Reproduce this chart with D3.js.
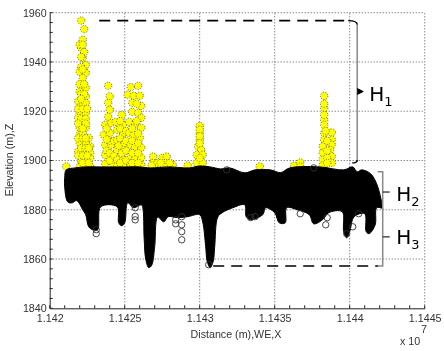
<!DOCTYPE html>
<html>
<head>
<meta charset="utf-8">
<script src="https://cdn.jsdelivr.net/npm/d3@7"></script>
<style>
  html, body { margin: 0; padding: 0; background: #fff; }
  svg { display: block; filter: blur(0.3px); }
  text { font-family: "Liberation Sans", Arial, sans-serif; fill: #333; }
</style>
</head>
<body>
<svg id="chart" width="444" height="351"></svg>
<script>
// Axis ticks (x is in units of 10^7 m)
const xTicks = [1.142, 1.1425, 1.143, 1.1435, 1.144, 1.1445];
const xTickLabels = ['1.142', '1.1425', '1.143', '1.1435', '1.144', '1.1445'];
const xMinor = [1.1421, 1.1422, 1.1423, 1.1424, 1.1426, 1.1427, 1.1428, 1.1429, 1.1431, 1.1432, 1.1433, 1.1434, 1.1436, 1.1437, 1.1438, 1.1439, 1.1441, 1.1442, 1.1443, 1.1444];
const zTicks = [1840, 1860, 1880, 1900, 1920, 1940, 1960];
const zMinor = [1844, 1848, 1852, 1856, 1864, 1868, 1872, 1876, 1884, 1888, 1892, 1896, 1904, 1908, 1912, 1916, 1924, 1928, 1932, 1936, 1944, 1948, 1952, 1956];

// Yellow points above the ground band, one array per spike
const spike1 = [[1.14211,1897.6],[1.14221,1956.8],[1.14223,1953.3],[1.14222,1949],[1.14221,1945.7],[1.14223,1944],[1.14222,1941.7],[1.14224,1938.8],[1.14221,1938],[1.1422,1936],[1.14224,1935.6],[1.14222,1933.5],[1.14221,1930],[1.14224,1929.5],[1.1422,1928],[1.14224,1926],[1.14219,1924],[1.14222,1923.4],[1.14224,1923.4],[1.1422,1919.4],[1.14224,1919.4],[1.14219,1917.3],[1.14222,1915.8],[1.1422,1913.3],[1.14224,1913.3],[1.1422,1910.4],[1.14222,1911.2],[1.14226,1909.2],[1.1422,1907.2],[1.14224,1907.2],[1.14227,1905.7],[1.14219,1903.7],[1.14223,1903.7],[1.14227,1903],[1.14221,1899.6],[1.14225,1900.3],[1.14227,1901],[1.1422,1897.5],[1.14224,1897.5],[1.14227,1897.5],
  [1.1422,1947],[1.14222,1947],[1.14221,1942],[1.14222,1937],[1.1422,1931],[1.14223,1931],[1.14221,1927],[1.14223,1927],[1.14221,1925],[1.14219,1921],[1.14222,1921],[1.14225,1921],[1.14221,1917],[1.14224,1917],[1.14219,1915],[1.14224,1915],[1.14222,1913],[1.14219,1909],[1.14222,1909],[1.14224,1909],[1.14221,1905],[1.14224,1905],[1.14226,1905],[1.14219,1902],[1.14222,1902],[1.14225,1902],[1.14222,1899],[1.14226,1899]];
const spike2 = [[1.14239,1930.3],[1.1424,1926],[1.14239,1923.4],[1.1424,1920.6],[1.14239,1917.8],[1.14237,1914.5],[1.14241,1915.3],[1.14236,1910.4],[1.1424,1911.2],[1.14237,1906.4],[1.14241,1906.4],[1.14237,1902.3],[1.14242,1902.3],[1.14237,1898.7],[1.14242,1898.7],
  [1.14238,1913],[1.1424,1908],[1.14238,1904],[1.1424,1900],[1.14238,1908.5],[1.1424,1903],[1.14243,1908],[1.14243,1902]];
const spike3 = [[1.14248,1918.5],[1.14244,1915.7],[1.14249,1914.5],[1.14245,1912.5],[1.14249,1911.2],[1.14245,1908.4],[1.14248,1907.6],[1.14245,1904.3],[1.14249,1904.3],[1.14245,1900.3],[1.14249,1900.3],[1.14245,1897.9],[1.14249,1897.9],
  [1.14247,1913],[1.14247,1909],[1.14246,1906],[1.14248,1903],[1.14247,1899],[1.1425,1907],[1.14247,1916],[1.14251,1912],[1.14251,1908],[1.14251,1904],[1.14251,1900]];
const spike4 = [[1.14254,1929.8],[1.14259,1930.3],[1.14252,1926.7],[1.14256,1926.3],[1.1426,1926.3],[1.14255,1923.4],[1.14261,1922.2],[1.14255,1919.7],[1.14259,1919.3],[1.14261,1917.3],[1.14253,1915.7],[1.14257,1914.9],[1.14261,1913.3],[1.14253,1911.2],[1.14256,1910.4],[1.1426,1909.2],[1.14254,1906.4],[1.14257,1905.6],[1.14261,1905.2],[1.14254,1901.9],[1.14257,1901.5],[1.14261,1901.1],[1.14254,1898.3],[1.14257,1898.3],[1.14261,1898.3],
  [1.14258,1923],[1.14258,1916],[1.14255,1913],[1.14259,1911],[1.14255,1908],[1.14259,1907],[1.14255,1903],[1.14259,1903],[1.14255,1899],[1.14259,1899]];
const bumps = [[1.14269,1901.6],[1.14269,1899],[1.14271,1898],[1.14275,1901],[1.14278,1901.6],[1.14277,1899],[1.14282,1898.2],[1.14292,1898],[1.1434,1897.6],[1.14363,1897.9],[1.14367,1899.2],[1.14367,1897.5],
  [1.14272,1899],[1.14274,1899],[1.1428,1899],[1.14268,1898]];
const spike5 = [[1.143,1914],[1.143,1911.2],[1.143,1908.4],[1.14299,1905.7],[1.14301,1904.3],[1.14298,1902.3],[1.14302,1902.3],[1.14298,1899],[1.14302,1899],
  [1.143,1912.5],[1.143,1909.8],[1.143,1907],[1.143,1901]];
const spike6 = [[1.14383,1926.2],[1.14383,1921.3],[1.14383,1916.5],[1.14383,1914.5],[1.14388,1911.4],[1.14383,1911.1],[1.14383,1908.4],[1.14388,1908.4],[1.14388,1906.4],[1.14382,1905.7],[1.14382,1903.1],[1.14387,1904.3],[1.14382,1900.3],[1.14388,1901.6],[1.14382,1898],[1.14388,1899],
  [1.14385,1908],[1.14385,1904],[1.14385,1901],[1.14385,1899],[1.14384,1912],[1.14383,1918.5],[1.14383,1923]];

// Outline of the dense black band
const bandTop = [[1.1421,1893],[1.14211,1896.2],[1.14217,1897],[1.14224,1897.4],[1.14234,1897.4],[1.1425,1897.4],[1.1426,1897.4],[1.14267,1897],[1.1428,1897.4],[1.14293,1897],[1.143,1897.8],[1.14307,1897.4],[1.14314,1896.6],[1.1432,1897],[1.1433,1895],[1.14337,1896.2],[1.14347,1896.2],[1.14354,1895.1],[1.1436,1897],[1.1438,1897.4],[1.14396,1896.2],[1.14402,1897.4],[1.14405,1895.4],[1.14408,1896.2],[1.14414,1894.6],[1.14418,1890.5],[1.14421,1884],[1.14422,1880.5]];
const bandBottom = [[1.1421,1889],[1.14212,1883.2],[1.14215,1882.8],[1.14218,1883.7],[1.14222,1880],[1.14224,1878],[1.14226,1873.1],[1.14229,1871.8],[1.14232,1871.9],[1.14234,1881.2],[1.14245,1881.2],[1.14246,1874.7],[1.14248,1873.5],[1.1425,1874.7],[1.14252,1882.8],[1.14256,1880.8],[1.14261,1882],[1.14262,1881],[1.14263,1868],[1.14264,1860],[1.14266,1856.5],[1.14268,1857.5],[1.1427,1865],[1.14272,1877],[1.14276,1875.1],[1.14279,1877.2],[1.14285,1876.8],[1.14292,1877.2],[1.143,1878],[1.14302,1875],[1.14304,1865],[1.14305,1859],[1.14307,1856.5],[1.14309,1859],[1.1431,1865],[1.14312,1877],[1.14315,1878.8],[1.14322,1880.8],[1.1433,1882],[1.14331,1877.2],[1.14334,1876],[1.14342,1878],[1.14344,1880.8],[1.1435,1878.8],[1.14353,1874.7],[1.14357,1874.7],[1.14358,1880.8],[1.14365,1880],[1.14373,1878],[1.14376,1874.3],[1.14382,1876],[1.14386,1878.8],[1.14395,1879.2],[1.14396,1871.1],[1.14398,1868.6],[1.144,1871.1],[1.14403,1877.2],[1.1441,1878.4],[1.14411,1871.1],[1.14413,1870.3],[1.14417,1873.9],[1.14418,1880.8],[1.14422,1880.5]];

// Single open circles sticking out of the band
const openPoints = [[1.14231,1870.3],[1.14231,1871.9],[1.14257,1875.9],[1.14257,1877.3],[1.14257,1880.8],[1.14288,1867.8],[1.14288,1871.1],[1.14284,1874.3],[1.14288,1877.2],[1.14284,1875.9],[1.14288,1873.9],[1.14306,1857.7],[1.14384,1873.9],[1.14385,1876.8],[1.14337,1877.2],[1.14334,1876.8],[1.14367,1878.4],[1.14398,1870.3],[1.14402,1873.1],[1.14406,1878.4],[1.14318,1896.2],[1.14376,1897]];

// Annotation levels
const maxZ = 1956.8;
const minZ = 1857.2;
const h1Bottom = 1899;
const h2Top = 1895.4;

const svg = d3.select('#chart');
const x = d3.scaleLinear().domain([1.142, 1.1445]).range([49.7, 424.7]);
const z = d3.scaleLinear().domain([1840, 1960]).range([308.3, 12.7]);

// Grid
svg.append('g').selectAll('line').data(xTicks.slice(1)).join('line')
    .attr('x1', d => x(d)).attr('x2', d => x(d))
    .attr('y1', z(1840)).attr('y2', z(1960))
    .attr('stroke', '#555').attr('stroke-dasharray', '1 2');
svg.append('g').selectAll('line').data(zTicks.slice(1)).join('line')
    .attr('x1', x(1.142)).attr('x2', x(1.1445))
    .attr('y1', d => z(d)).attr('y2', d => z(d))
    .attr('stroke', '#555').attr('stroke-dasharray', '1 2');

// Yellow points
const yellow = [].concat(spike1, spike2, spike3, spike4, bumps, spike5, spike6);
svg.append('g').selectAll('circle').data(yellow).join('circle')
    .attr('cx', d => x(d[0])).attr('cy', d => z(d[1])).attr('r', 3.7)
    .attr('fill', '#ffff00').attr('stroke', '#000')
    .attr('stroke-width', 0.6).attr('stroke-dasharray', '1 1.6');

// Black band
const bandLine = d3.line().x(d => x(d[0])).y(d => z(d[1])).curve(d3.curveCatmullRomClosed);
svg.append('path')
    .attr('d', bandLine(bandTop.concat(bandBottom.slice().reverse())))
    .attr('fill', '#000').attr('stroke', '#000').attr('stroke-linejoin', 'round');

svg.append('g').selectAll('circle').data(openPoints).join('circle')
    .attr('cx', d => x(d[0])).attr('cy', d => z(d[1])).attr('r', 3.2)
    .attr('fill', 'none').attr('stroke', '#333').attr('stroke-width', 0.9);

// Axes
const xAxis = d3.axisBottom(x).tickValues(xTicks).tickSize(0).tickPadding(6)
    .tickFormat((d, i) => xTickLabels[i]);
const zAxis = d3.axisLeft(z).tickValues(zTicks).tickSize(0).tickPadding(3)
    .tickFormat(d3.format('d'));
const gx = svg.append('g').attr('transform', `translate(0,${z(1840)})`).call(xAxis);
const gz = svg.append('g').attr('transform', `translate(${x(1.142)},0)`).call(zAxis);
gx.selectAll('text').attr('font-size', 10.7).attr('font-family', null).attr('fill', '#333');
gz.selectAll('text').attr('font-size', 10.7).attr('font-family', null).attr('fill', '#333');
gx.select('.domain').attr('stroke', '#222');
gz.select('.domain').attr('stroke', '#222');

// inward tick marks
svg.append('g').selectAll('line').data(xTicks.concat(xMinor)).join('line')
    .attr('x1', d => x(d)).attr('x2', d => x(d))
    .attr('y1', z(1840)).attr('y2', z(1840) - 3).attr('stroke', '#222');
svg.append('g').selectAll('line').data(zTicks.concat(zMinor)).join('line')
    .attr('x1', x(1.142)).attr('x2', x(1.142) + 3)
    .attr('y1', d => z(d)).attr('y2', d => z(d)).attr('stroke', '#222');

// Axis titles
svg.append('text').attr('x', 236).attr('y', 338).attr('text-anchor', 'middle')
    .attr('font-size', 10.7).text('Distance (m),WE,X');
svg.append('text').attr('transform', 'translate(13,160) rotate(-90)').attr('text-anchor', 'middle')
    .attr('font-size', 10.7).text('Elevation (m),Z');
svg.append('text').attr('x', 400).attr('y', 345).attr('font-size', 10.7).text('x 10');
svg.append('text').attr('x', 421).attr('y', 333).attr('font-size', 10.7).text('7');

// Dashed guide lines
svg.append('line').attr('x1', x(1.14233)).attr('x2', x(1.14399))
    .attr('y1', z(maxZ)).attr('y2', z(maxZ))
    .attr('stroke', '#000').attr('stroke-width', 1.6).attr('stroke-dasharray', '11 7');
svg.append('line').attr('x1', x(1.14309)).attr('x2', x(1.14419))
    .attr('y1', z(minZ)).attr('y2', z(minZ))
    .attr('stroke', '#000').attr('stroke-width', 1.6).attr('stroke-dasharray', '11 7');

// Brace for H1
const braceX = x(1.14405);
svg.append('line').attr('x1', braceX).attr('x2', braceX)
    .attr('y1', z(maxZ) + 3).attr('y2', z(h1Bottom) - 1)
    .attr('stroke', '#888').attr('stroke-width', 1.5);
svg.append('path')
    .attr('d', `M${x(1.14399)},${z(maxZ)} Q${braceX},${z(maxZ)} ${braceX},${z(maxZ) + 4}`)
    .attr('fill', 'none').attr('stroke', '#000').attr('stroke-width', 1.3);
svg.append('path')
    .attr('d', `M${braceX},${z(h1Bottom) - 3} Q${braceX},${z(h1Bottom)} ${braceX - 5},${z(h1Bottom)}`)
    .attr('fill', 'none').attr('stroke', '#000').attr('stroke-width', 1.3);
svg.append('path')
    .attr('d', `M${braceX},${z(1928) - 3} L${braceX + 6},${z(1928)} L${braceX},${z(1928) + 3}`)
    .attr('fill', '#000').attr('stroke', '#000').attr('stroke-width', 1);

// Bracket for H2 and H3
const bracketX = x(1.14422);
svg.append('path')
    .attr('d', `M${bracketX - 5},${z(h2Top)} L${bracketX},${z(h2Top)} L${bracketX},${z(minZ)} L${bracketX - 5},${z(minZ)}`)
    .attr('fill', 'none').attr('stroke', '#888').attr('stroke-width', 1.5);
svg.append('line').attr('x1', bracketX).attr('x2', bracketX + 7)
    .attr('y1', z(1887.2)).attr('y2', z(1887.2)).attr('stroke', '#222').attr('stroke-width', 1.2);
svg.append('line').attr('x1', bracketX).attr('x2', bracketX + 7)
    .attr('y1', z(1869)).attr('y2', z(1869)).attr('stroke', '#222').attr('stroke-width', 1.2);

// H labels
function hLabel(px, py, sub) {
    const t = svg.append('text').attr('x', px).attr('y', py)
        .style('font-family', '"DejaVu Sans", sans-serif').style('fill', '#000').attr('font-size', 20);
    t.append('tspan').text('H');
    t.append('tspan').attr('font-size', 13).attr('dy', 5).text(sub);
}
hLabel(x(1.14413), z(1924), '1');
hLabel(x(1.14431), z(1883.5), '2');
hLabel(x(1.14431), z(1866), '3');
</script>
</body>
</html>
